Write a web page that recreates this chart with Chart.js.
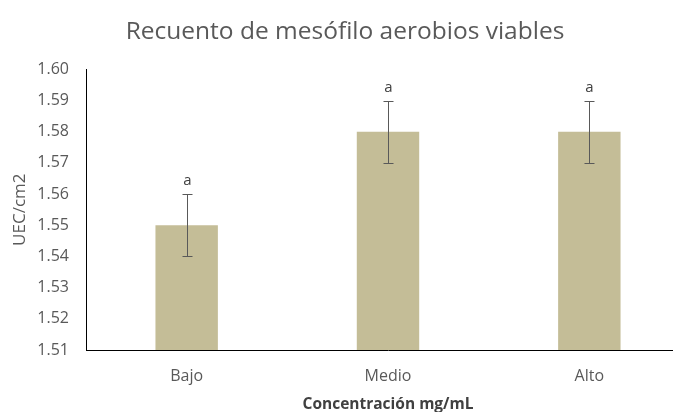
<!DOCTYPE html>
<html>
<head>
<meta charset="utf-8">
<script src="https://cdn.jsdelivr.net/npm/chart.js@4/dist/chart.umd.min.js"></script>
<style>
  html, body { margin: 0; padding: 0; background: #fff; overflow: hidden; }
  #wrap { width: 690px; height: 412px; }
</style>
</head>
<body>
<div id="wrap"><canvas id="chart" width="690" height="412"></canvas></div>
<script>
// Recuento por concentración
const categories = ['Bajo', 'Medio', 'Alto'];
const recuento = [1.55, 1.58, 1.58];
const errorBajo = [1.54, 1.57, 1.57];
const errorAlto = [1.56, 1.59, 1.59];
const letras = ['a', 'a', 'a'];

const textColor = '#595959';
const fontFamily = '"Open Sans", sans-serif';

// error bars + significance letters
const errorBars = {
  id: 'errorBars',
  afterDatasetsDraw(chart) {
    const ctx = chart.ctx;
    const x = chart.scales.x;
    const y = chart.scales.y;
    ctx.save();
    ctx.strokeStyle = '#595959';
    ctx.lineWidth = 1;
    categories.forEach((c, i) => {
      const cx = Math.round(x.getPixelForValue(i)) + 0.5;
      const yLo = Math.round(y.getPixelForValue(errorBajo[i])) + 0.5;
      const yHi = Math.round(y.getPixelForValue(errorAlto[i])) + 0.5;
      ctx.beginPath();
      ctx.moveTo(cx, yLo); ctx.lineTo(cx, yHi);
      ctx.moveTo(cx - 5, yLo); ctx.lineTo(cx + 5, yLo);
      ctx.moveTo(cx - 5, yHi); ctx.lineTo(cx + 5, yHi);
      ctx.stroke();
      ctx.fillStyle = '#404040';
      ctx.font = '15px ' + fontFamily;
      ctx.textAlign = 'center';
      ctx.textBaseline = 'bottom';
      ctx.fillText(letras[i], cx, yHi - 6);
    });
    ctx.restore();
  }
};

new Chart(document.getElementById('chart'), {
  type: 'bar',
  data: {
    labels: categories,
    datasets: [{
      data: recuento,
      backgroundColor: '#C4BD97',
      barPercentage: 0.31,
      categoryPercentage: 1
    }]
  },
  options: {
    responsive: false,
    animation: false,
    layout: { padding: 0 },
    plugins: {
      legend: { display: false },
      tooltip: { enabled: false },
      title: {
        display: true,
        text: 'Recuento de mesófilo aerobios viables',
        color: textColor,
        font: { family: fontFamily, size: 24.5, weight: 'normal' },
        padding: { top: 17, bottom: 23 }
      }
    },
    scales: {
      x: {
        grid: { display: false },
        border: { color: '#000', width: 1 },
        ticks: { color: textColor, font: { family: fontFamily, size: 16 }, padding: 9 },
        title: {
          display: true,
          text: 'Concentración mg/mL',
          color: '#404040',
          font: { family: fontFamily, size: 15.5, weight: 'bold', lineHeight: 0.9 },
          padding: { top: 6, bottom: 0 }
        },
        afterFit: s => { s.height = 62; }
      },
      y: {
        min: 1.51,
        max: 1.60,
        grid: { display: false },
        border: { color: '#000', width: 1 },
        ticks: {
          stepSize: 0.01,
          color: textColor,
          font: { family: fontFamily, size: 16 },
          padding: 9,
          callback: v => v.toFixed(2)
        },
        title: {
          display: true,
          text: 'UEC/cm2',
          color: textColor,
          font: { family: fontFamily, size: 17, weight: 'normal' },
          padding: { top: 10, bottom: 4 }
        },
        afterFit: s => { s.width = 86; }
      }
    }
  },
  plugins: [errorBars]
});
</script>
</body>
</html>
